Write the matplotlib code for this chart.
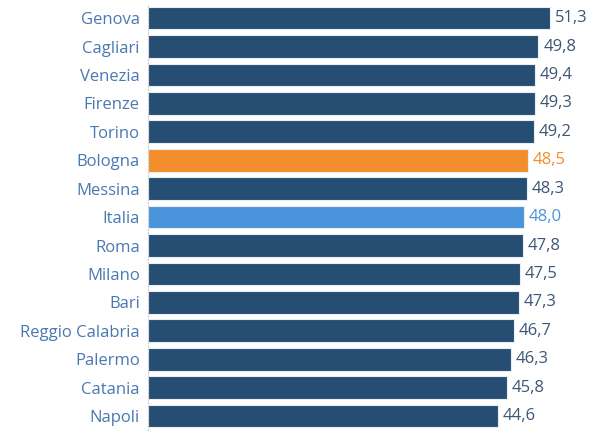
import matplotlib
matplotlib.use("Agg")
import matplotlib.pyplot as plt

cities = ["Genova", "Cagliari", "Venezia", "Firenze", "Torino", "Bologna", "Messina",
          "Italia", "Roma", "Milano", "Bari", "Reggio Calabria", "Palermo", "Catania", "Napoli"]
values = [51.3, 49.8, 49.4, 49.3, 49.2, 48.5, 48.3, 48.0, 47.8, 47.5, 47.3, 46.7, 46.3, 45.8, 44.6]
labels = ["51,3", "49,8", "49,4", "49,3", "49,2", "48,5", "48,3", "48,0", "47,8", "47,5",
          "47,3", "46,7", "46,3", "45,8", "44,6"]

base_color = "#264e73"
highlight = {"Bologna": "#f28e2b", "Italia": "#4a94dc"}
text_dark = "#3d5775"

plt.rcParams['font.family'] = ['Open Sans', 'DejaVu Sans']

fig = plt.figure(figsize=(6.04, 4.32), dpi=100)
ax = fig.add_axes([148/604, 0.004, 452/604, 0.987])

ypos = list(range(len(cities)))
colors = [highlight.get(c, base_color) for c in cities]
ax.barh(ypos, values, height=0.8, color=colors, edgecolor="#e8eef4", linewidth=0.8)

for y, v, lab, c in zip(ypos, values, labels, cities):
    tc = highlight.get(c, text_dark)
    ax.text(v + 0.6, y, lab, va="center", ha="left", fontsize=12, color=tc)

ax.set_yticks(ypos)
ax.set_yticklabels(cities, fontsize=12, color="#4a78b2")
ax.tick_params(axis="y", length=0, pad=6)
ax.set_xticks([])
ax.set_xlim(0, 452/7.84)
ax.set_ylim(len(cities) - 0.5, -0.5)
for s in ["top", "right", "bottom"]:
    ax.spines[s].set_visible(False)
ax.spines["left"].set_color("#cccccc")
ax.spines["left"].set_linestyle((0, (1, 2)))
ax.spines["left"].set_linewidth(0.8)

fig.savefig("out.png", dpi=100)
